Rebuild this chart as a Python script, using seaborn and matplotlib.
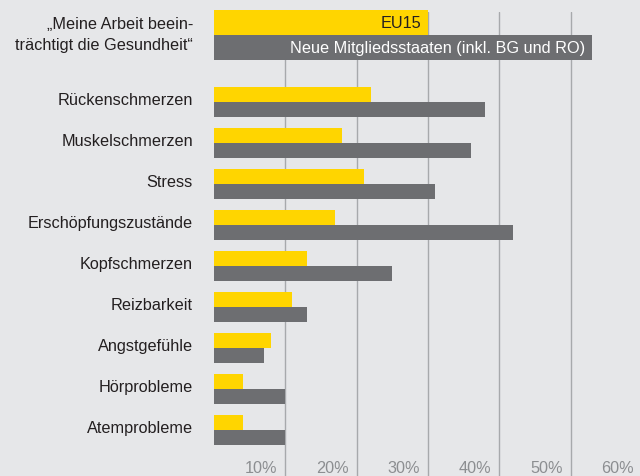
import matplotlib
matplotlib.use("Agg")
import matplotlib.pyplot as plt
import matplotlib.transforms as mtransforms
import seaborn as sns
import pandas as pd

# ---- data ----
categories = ["Rückenschmerzen", "Muskelschmerzen", "Stress", "Erschöpfungszustände",
              "Kopfschmerzen", "Reizbarkeit", "Angstgefühle", "Hörprobleme", "Atemprobleme"]
eu15 = [22, 18, 21, 17, 13, 11, 8, 4, 4]
neue = [38, 36, 31, 42, 25, 13, 7, 10, 10]

head_category = ["„Meine Arbeit beein-\nträchtigt die Gesundheit“"]
head_eu15 = [30]
head_neue = [53]

series_names = ["EU15", "Neue Mitgliedsstaaten (inkl. BG und RO)"]
tick_values = [10, 20, 30, 40, 50, 60]
tick_labels = ["10%", "20%", "30%", "40%", "50%", "60%"]

# ---- style ----
BG = "#e6e7e9"
YELLOW = "#ffd500"
GRAY = "#6d6e71"
GRID = "#a7a9ac"
TXT = "#231f20"
TICK = "#8c8e91"
FONT = ["Liberation Sans", "DejaVu Sans"]

sns.set_theme(style="white")
plt.rcParams["font.family"] = FONT

W, H = 640, 477
fig = plt.figure(figsize=(W / 100, H / 100), dpi=100)
fig.patch.set_facecolor(BG)

x0 = 214
px10 = 71.3
axw = px10 * 6

def px_to_fig(left, top, width, height):
    return [left / W, 1 - (top + height) / H, width / W, height / H]

# main axes (with gridlines)
ax = fig.add_axes(px_to_fig(x0, 13, axw, H - 13))
ax.set_facecolor("none")

df = pd.DataFrame({
    "Kategorie": categories * 2,
    "Wert": eu15 + neue,
    "Serie": [series_names[0]] * len(categories) + [series_names[1]] * len(categories),
})
sns.barplot(data=df, y="Kategorie", x="Wert", hue="Serie", order=categories,
            hue_order=series_names, palette=[YELLOW, GRAY], orient="h",
            width=30 / 41, linewidth=0, legend=False, ax=ax, errorbar=None,
            saturation=1)

step = 41
ax.set_xlim(0, 60)
ax.set_ylim(8 + (477 - 431) / step, -(103 - 13) / step)
for v in tick_values:
    ax.axvline(v, color=GRID, lw=1.0, zorder=0)
ax.set_xticks([])
ax.set_yticks([])
ax.set_xlabel("")
ax.set_ylabel("")
for s in ax.spines.values():
    s.set_visible(False)

# category labels
lab_trans = mtransforms.blended_transform_factory(fig.transFigure, ax.transData)
for i, c in enumerate(categories):
    fig.text(193 / W, i - 0.06, c, transform=lab_trans, ha="right", va="center",
             fontsize=11.7, color=TXT)

# x tick labels (right-aligned, left of gridlines)
tick_trans = mtransforms.blended_transform_factory(ax.transData, ax.transAxes) + \
    mtransforms.ScaledTranslation(-8 / 100, 4 / 100, fig.dpi_scale_trans)
for v, t in zip(tick_values, tick_labels):
    ax.text(v, 0.0, t, transform=tick_trans, ha="right", va="baseline",
            fontsize=11.7, color=TICK)

# headline axes
axh = fig.add_axes(px_to_fig(x0, 11, axw, 50))
axh.set_facecolor("none")
dfh = pd.DataFrame({
    "Kategorie": head_category * 2,
    "Wert": head_eu15 + head_neue,
    "Serie": series_names,
})
sns.barplot(data=dfh, y="Kategorie", x="Wert", hue="Serie", hue_order=series_names,
            palette=[YELLOW, GRAY], orient="h", width=1.0, linewidth=0,
            legend=False, ax=axh, errorbar=None, saturation=1)
axh.set_xlim(0, 60)
axh.set_ylim(0.5, -0.5)
axh.set_xticks([])
axh.set_yticks([])
axh.set_xlabel("")
axh.set_ylabel("")
for s in axh.spines.values():
    s.set_visible(False)

in_trans = axh.transData + mtransforms.ScaledTranslation(-7 / 100, 0, fig.dpi_scale_trans)
axh.text(head_eu15[0], -0.25, series_names[0], transform=in_trans, ha="right",
         va="center", fontsize=11.7, color=TXT)
axh.text(head_neue[0], 0.25, series_names[1], transform=in_trans, ha="right",
         va="center", fontsize=11.7, color="white")

fig.text(193 / W, 1 - 35 / H, head_category[0], ha="right", va="center",
         fontsize=11.7, color=TXT, linespacing=1.45)

fig.savefig("out.png", dpi=100, facecolor=BG)
